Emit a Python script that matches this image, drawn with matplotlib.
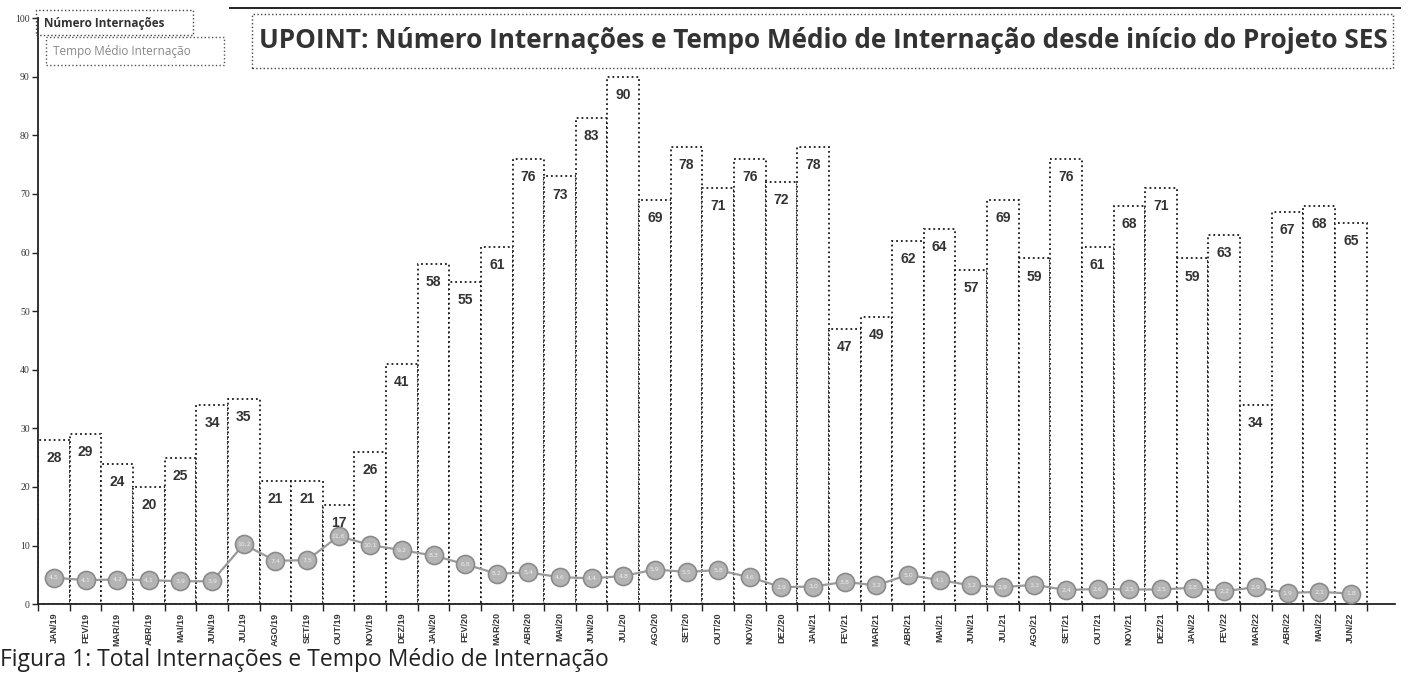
import numpy as np
import matplotlib.pyplot as plt
from matplotlib.patches import Rectangle
from matplotlib.lines import Line2D

meses = ["JAN", "FEV", "MAR", "ABR", "MAI", "JUN", "JUL", "AGO", "SET", "OUT", "NOV", "DEZ"]
rotulos = []
for ano in (19, 20, 21, 22):
    for m in meses:
        rotulos.append(m + "/" + str(ano))
rotulos = rotulos[:42]

internacoes = [28, 29, 24, 20, 25, 34, 35, 21, 21, 17, 26, 41,
               58, 55, 61, 76, 73, 83, 90, 69, 78, 71, 76, 72,
               78, 47, 49, 62, 64, 57, 69, 59, 76, 61, 68, 71,
               59, 63, 34, 67, 68, 65]
tempo_medio = [4.5, 4.1, 4.2, 4.1, 3.9, 3.9, 10.2, 7.4, 7.5, 11.6, 10.1, 9.2,
               8.3, 6.8, 5.2, 5.4, 4.6, 4.4, 4.8, 5.9, 5.5, 5.8, 4.6, 2.9,
               3.0, 3.8, 3.2, 5.0, 4.1, 3.2, 2.9, 3.3, 2.4, 2.6, 2.5, 2.5,
               2.8, 2.2, 2.9, 1.9, 2.1, 1.8]

x = np.arange(len(rotulos))

fig = plt.figure(figsize=(14.12, 6.75), dpi=100)
ax = fig.add_axes([0.027, 0.105, 0.961, 0.868])

bars = ax.bar(x, internacoes, width=1.0, color="white", edgecolor="#1a1a1a",
              linewidth=1.3, linestyle=":", zorder=2)
for xi, v in zip(x, internacoes):
    ax.annotate(str(v), (xi, v), xytext=(0, -8), textcoords="offset points",
                ha="center", va="top", fontsize=10, fontweight="bold",
                color="#333333", family="Liberation Sans", zorder=5)

ax.plot(x, tempo_medio, color="#9a9a9a", linewidth=1.6, marker="o",
        markersize=13, markerfacecolor="#b4b4b4", markeredgecolor="#8a8a8a",
        markeredgewidth=1.2, zorder=4)
for xi, v in zip(x, tempo_medio):
    ax.text(xi, v, ("%.1f" % v).replace(".", ","), ha="center", va="center",
            fontsize=4.5, color="#eeeeee", zorder=6)

ax.set_xlim(-0.5, 42.4)
ax.set_ylim(0, 100)
ax.set_yticks(np.arange(0, 101, 10))
ax.set_yticklabels([str(v) for v in range(0, 101, 10)], fontsize=7,
                   family="Liberation Serif", color="#333333")
ax.set_xticks(np.arange(-0.5, 42.5, 1), minor=False)
ax.set_xticklabels([])
ax.set_xticks(x, minor=True)
ax.set_xticklabels(rotulos, minor=True, rotation=90, fontsize=6.5,
                   fontweight="bold", color="#333333", family="Liberation Sans")
ax.tick_params(axis="x", which="major", length=5, width=1, color="#222222")
ax.tick_params(axis="x", which="minor", length=0, pad=6)
ax.tick_params(axis="y", length=4, width=1, color="#222222", pad=2)

for s in ("top", "right"):
    ax.spines[s].set_visible(False)
ax.spines["left"].set_linewidth(1.3)
ax.spines["bottom"].set_linewidth(1.3)
ax.spines["left"].set_color("#222222")
ax.spines["bottom"].set_color("#222222")

# legenda em caixas pontilhadas
fig.patches.append(Rectangle((36 / 1412, 1 - 35 / 675), 157 / 1412, 25 / 675,
                             transform=fig.transFigure, fill=False,
                             edgecolor="#444444", linestyle=":", linewidth=1))
fig.text(44 / 1412, 1 - 23 / 675, "Número Internações", fontsize=8.5,
         fontweight="bold", color="#333333", family="Open Sans", va="center")
fig.patches.append(Rectangle((46 / 1412, 1 - 65 / 675), 178 / 1412, 28 / 675,
                             transform=fig.transFigure, fill=False,
                             edgecolor="#555555", linestyle=":", linewidth=1))
fig.text(53 / 1412, 1 - 51 / 675, "Tempo Médio Internação", fontsize=8.5,
         color="#888888", family="Open Sans", va="center")

# titulo
fig.patches.append(Rectangle((252 / 1412, 1 - 68 / 675), 1141 / 1412, 54 / 675,
                             transform=fig.transFigure, fill=False,
                             edgecolor="#444444", linestyle=":", linewidth=1))
fig.text(823 / 1412, 1 - 41 / 675,
         "UPOINT: Número Internações e Tempo Médio de Internação desde início do Projeto SES",
         fontsize=18.8, fontweight="bold", color="#333333", family="Open Sans",
         ha="center", va="center")

fig.lines.append(Line2D([230 / 1412, 1400 / 1412], [1 - 8 / 675, 1 - 8 / 675],
                        transform=fig.transFigure, color="#222222", linewidth=1.4))

fig.text(0.0, 1 - 660 / 675, "Figura 1: Total Internações e Tempo Médio de Internação",
         fontsize=16.5, color="#222222", family="Open Sans", va="center")

fig.savefig("out.png", dpi=100, facecolor="white")
